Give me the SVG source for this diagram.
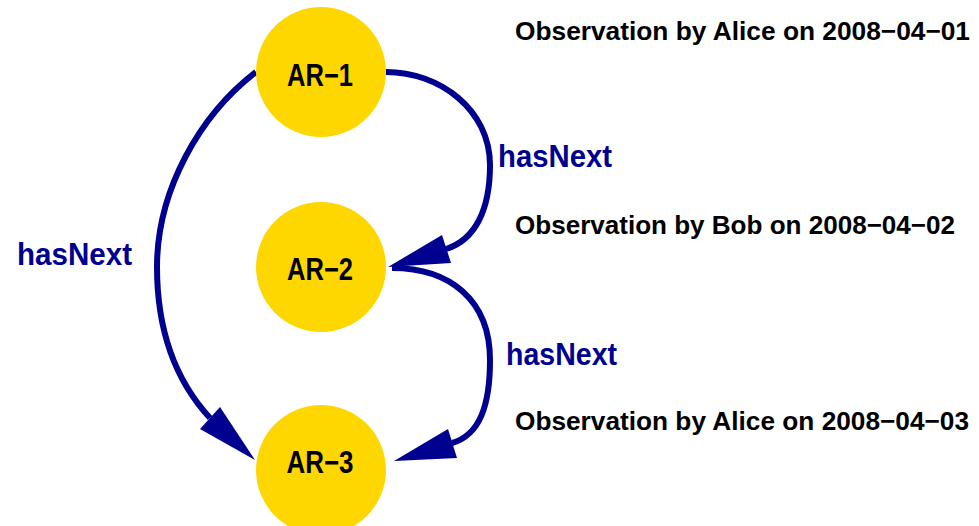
<svg xmlns="http://www.w3.org/2000/svg" width="979" height="526" viewBox="0 0 979 526">
  <style>
    .node circle { fill: #ffd700; }
    .node text { font-family: "Liberation Sans", Arial, sans-serif; font-weight: bold; font-size: 31px; fill: #000; text-anchor: middle; }
    .edge { fill: none; stroke: #000090; stroke-width: 6; }
    .head { fill: #000090; }
    .elabel { font-family: "Liberation Sans", Arial, sans-serif; font-weight: bold; font-size: 31px; fill: #000090; }
    .note { font-family: "Liberation Sans", Arial, sans-serif; font-weight: bold; font-size: 26px; fill: #000; }
  </style>
  <rect width="979" height="526" fill="#fff"/>

  <g id="connectors">
    <!-- AR-1 to AR-2 -->
    <path class="edge" d="M386,72 C440,72 490,110 490,165 C490,210 475,240 446,249"/>
    <polygon class="head" points="388,267 442,235 451,263"/>
    <!-- AR-2 to AR-3 -->
    <path class="edge" d="M392,268 C450,268 490,300 490,360 C490,405 480,435 452,443"/>
    <polygon class="head" points="394,461 448,429 457,458"/>
    <!-- AR-1 to AR-3 -->
    <path class="edge" d="M256,72 C200,115 157,190 157,267 C157,330 175,380 210,418"/>
    <polygon class="head" points="255,460 200,429 220,407"/>
    <text class="elabel" x="498" y="167" textLength="114" lengthAdjust="spacingAndGlyphs">hasNext</text>
    <text class="elabel" x="506" y="365" textLength="111" lengthAdjust="spacingAndGlyphs">hasNext</text>
    <text class="elabel" x="17" y="265" textLength="115" lengthAdjust="spacingAndGlyphs">hasNext</text>
  </g>

  <g id="ar1" class="node">
    <circle cx="321" cy="72" r="65"/>
    <text x="320" y="86" textLength="66" lengthAdjust="spacingAndGlyphs">AR−1</text>
  </g>
  <g id="ar2" class="node">
    <circle cx="321" cy="267" r="65"/>
    <text x="320" y="280" textLength="66" lengthAdjust="spacingAndGlyphs">AR−2</text>
  </g>
  <g id="ar3" class="node">
    <circle cx="321" cy="470" r="65"/>
    <text x="320" y="473" textLength="67" lengthAdjust="spacingAndGlyphs">AR−3</text>
  </g>

  <g id="notes">
    <text class="note" x="515" y="40" textLength="455" lengthAdjust="spacingAndGlyphs">Observation by Alice on 2008−04−01</text>
    <text class="note" x="515" y="234" textLength="440" lengthAdjust="spacingAndGlyphs">Observation by Bob on 2008−04−02</text>
    <text class="note" x="515" y="430" textLength="454" lengthAdjust="spacingAndGlyphs">Observation by Alice on 2008−04−03</text>
  </g>
</svg>
